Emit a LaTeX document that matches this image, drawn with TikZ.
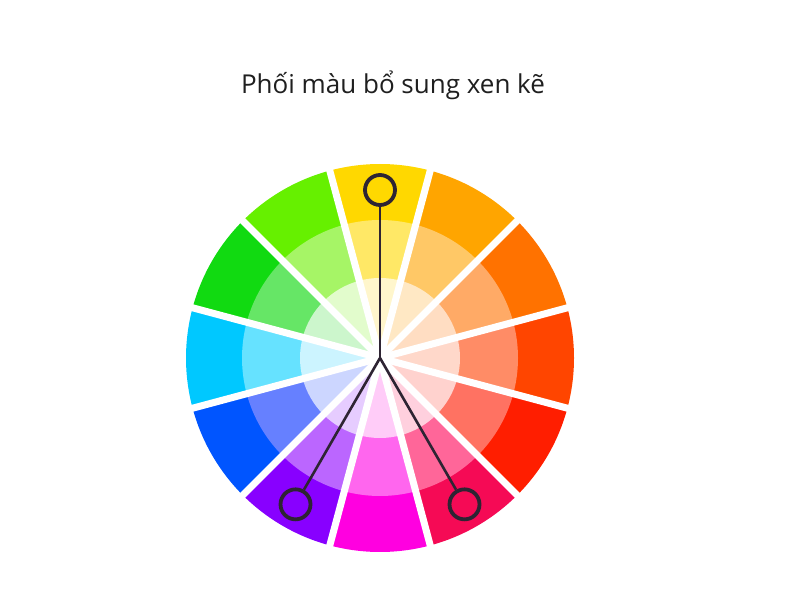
\documentclass[tikz,border=0pt]{standalone}
\usepackage{fontspec}
\setmainfont{Open Sans}
\usetikzlibrary{calc}
\begin{document}
\begin{tikzpicture}[x=1pt,y=1pt,
  gap/.style={white,line width=7pt},
  pick/.style={circle,draw=pickcol,line width=3.8pt,minimum size=30pt,inner sep=0pt},
  link/.style={draw=pickcol,line width=2.6pt},
  title/.style={font=\fontsize{26}{30}\selectfont,text=black!88}]
\definecolor{pickcol}{HTML}{2E2433}
% outer, middle, inner colours, clockwise from the top
\definecolor{o0}{HTML}{FFD800}\definecolor{m0}{HTML}{FFE866}\definecolor{i0}{HTML}{FFF6CC}
\definecolor{o1}{HTML}{FFA500}\definecolor{m1}{HTML}{FFC866}\definecolor{i1}{HTML}{FFE8C4}
\definecolor{o2}{HTML}{FF7200}\definecolor{m2}{HTML}{FFAA66}\definecolor{i2}{HTML}{FFDDC2}
\definecolor{o3}{HTML}{FF4500}\definecolor{m3}{HTML}{FF8C66}\definecolor{i3}{HTML}{FFD8CA}
\definecolor{o4}{HTML}{FF1E00}\definecolor{m4}{HTML}{FF7262}\definecolor{i4}{HTML}{FFD2CE}
\definecolor{o5}{HTML}{F50A55}\definecolor{m5}{HTML}{FF6699}\definecolor{i5}{HTML}{FFD0DE}
\definecolor{o6}{HTML}{FF00E0}\definecolor{m6}{HTML}{FF66EE}\definecolor{i6}{HTML}{FFCCF8}
\definecolor{o7}{HTML}{8800FF}\definecolor{m7}{HTML}{BB66FF}\definecolor{i7}{HTML}{E6CCFF}
\definecolor{o8}{HTML}{0055FF}\definecolor{m8}{HTML}{6680FF}\definecolor{i8}{HTML}{CCD6FF}
\definecolor{o9}{HTML}{00C8FF}\definecolor{m9}{HTML}{66E2FF}\definecolor{i9}{HTML}{CCF4FF}
\definecolor{o10}{HTML}{11DA11}\definecolor{m10}{HTML}{66E666}\definecolor{i10}{HTML}{CCF6CC}
\definecolor{o11}{HTML}{66F000}\definecolor{m11}{HTML}{A6F566}\definecolor{i11}{HTML}{E2FCCC}
\useasboundingbox (0,0) rectangle (800,600);
\fill[white] (0,0) rectangle (800,600);
\coordinate (C) at (380,242);
\node[title] (ttl) at (393,515) {Phối màu bổ sung xen kẽ};
\foreach \k in {0,...,11}{
  \pgfmathsetmacro{\a}{90-30*\k}
  \fill[o\k] (C) -- ++(\a-15:194) arc[start angle=\a-15,end angle=\a+15,radius=194] -- cycle;
  \fill[m\k] (C) -- ++(\a-15:138) arc[start angle=\a-15,end angle=\a+15,radius=138] -- cycle;
  \fill[i\k] (C) -- ++(\a-15:80) arc[start angle=\a-15,end angle=\a+15,radius=80] -- cycle;
}
\foreach \k in {0,...,11}{
  \pgfmathsetmacro{\b}{75-30*\k}
  \draw[gap] (C) -- ++(\b:200);
}
\node[pick] (p0) at ($(C)+(90:168)$) {};
\node[pick] (p1) at ($(C)+(-60:169)$) {};
\node[pick] (p2) at ($(C)+(-120:169)$) {};
\draw[link] (C) -- (p0);
\draw[link] (C) -- (p1);
\draw[link] (C) -- (p2);
\end{tikzpicture}
\end{document}
